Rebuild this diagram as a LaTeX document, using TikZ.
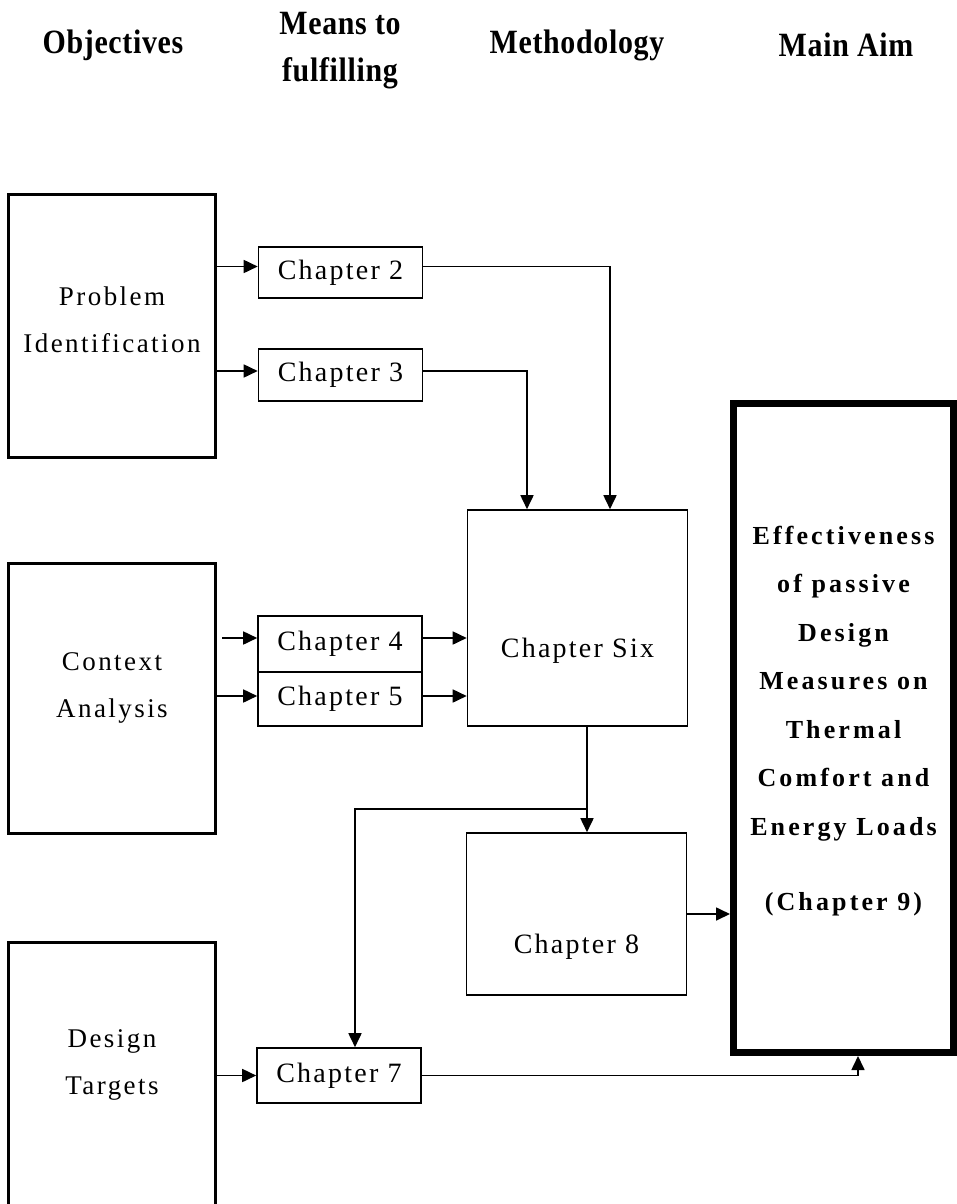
\documentclass[tikz,border=0pt]{standalone}
\usepackage{fontspec}
\setmainfont{Liberation Serif}
\newfontfamily\chapfont[LetterSpace=8]{Liberation Serif}
\newfontfamily\objfont[LetterSpace=9]{Liberation Serif}
\newfontfamily\headfont[FakeStretch=0.88, LetterSpace=2]{Liberation Serif}
\newfontfamily\aimfont[LetterSpace=12]{Liberation Serif}
\usetikzlibrary{arrows.meta,positioning,calc}

\begin{document}
\begin{tikzpicture}[
    x=1pt, y=-1pt,
    arr/.style={-{Triangle[length=14pt,width=13pt]}, line width=1.7pt},
    head/.style={font=\headfont\bfseries\fontsize{34}{47}\selectfont, align=center},
    objbox/.style 2 args={draw, line width=3pt, minimum width=207pt, label={[yshift=#1, align=center, font=\objfont\fontsize{27}{47}\selectfont]center:#2}},
    chapbox/.style={draw, line width=1.6pt, minimum width=164pt, minimum height=53pt, font=\chapfont\fontsize{28}{32}\selectfont},
    methbox/.style={draw, line width=1.6pt, minimum width=220pt, label={[yshift=-33pt, font=\chapfont\fontsize{28}{32}\selectfont]center:#1}},
    aimbox/.style={draw, line width=7pt, minimum width=220pt, minimum height=649pt, label={[yshift=7pt, align=center, font=\aimfont\bfseries\fontsize{26}{48.5}\selectfont]center:#1}}
]
\useasboundingbox (0,0) rectangle (957,1204);

% column headings
\node[head] (hobj) at (113,45) {Objectives};
\node[head] (hmeans) at (340,51) {Means to\\fulfilling};
\node[head] (hmeth) at (577,45) {Methodology};
\node[head] (haim) at (846,45) {Main Aim};

% objectives
\node[objbox={6pt}{Problem\\Identification}, minimum height=263pt] (prob) at (112,325.5) {};
\node[objbox={10pt}{Context\\Analysis}, minimum height=270pt] (ctx) at (112,698) {};
\node[objbox={27pt}{Design\\Targets}, minimum height=300pt] (dsgn) at (112,1092) {};

% means
\node[chapbox, minimum height=51pt] (ch2) at (340.5,272.5) {Chapter 2};
\node[chapbox, minimum height=52pt] (ch3) at (340.5,375) {Chapter 3};
\node[chapbox, minimum height=56pt] (ch4) at (340,644) {Chapter 4};
\node[chapbox, minimum height=54pt] (ch5) at (340,699) {Chapter 5};
\node[chapbox, minimum height=55pt] (ch7) at (339,1075.5) {Chapter 7};

% methodology
\node[methbox=Chapter Six, minimum height=216pt] (ch6) at (577.5,618) {};
\node[methbox=Chapter 8, minimum height=162pt] (ch8) at (576.5,914) {};

% main aim
\node[aimbox={Effectiveness\\of passive\\Design\\Measures on\\Thermal\\Comfort and\\Energy Loads\\[27pt](Chapter 9)}] (aim) at (843.5,728) {};

% connectors
\coordinate (split) at (587,809);
\draw[arr] (prob.east |- ch2.west) ++(0,-6) -- ([yshift=6pt]ch2.west);
\draw[arr] (prob.east |- ch3.west) ++(0,-4) -- ([yshift=4pt]ch3.west);
\draw[arr] ([yshift=6pt]ch2.east) -| ([xshift=32.5pt]ch6.north);
\draw[arr] ([yshift=4pt]ch3.east) -| ([xshift=-50.5pt]ch6.north);
\draw[arr] ([xshift=5pt]ctx.east |- ch4.west) ++(0,-6) -- ([yshift=6pt]ch4.west);
\draw[arr] (ctx.east |- ch5.west) ++(0,-3) -- ([yshift=3pt]ch5.west);
\draw[arr] ([yshift=6pt]ch4.east) -- ([yshift=6pt]ch4.east -| ch6.west);
\draw[arr] ([yshift=3pt]ch5.east) -- ([yshift=3pt]ch5.east -| ch6.west);
\draw[arr] ([xshift=9.5pt]ch6.south) -- ([xshift=10.5pt]ch8.north);
\draw[arr] (split) -| ([xshift=16pt]ch7.north);
\draw[arr] (ch8.east) -- (ch8.east -| aim.west);
\draw[arr] (dsgn.east |- ch7.west) -- (ch7.west);
\draw[arr] (ch7.east) -| ([xshift=14.5pt]aim.south);
\end{tikzpicture}
\end{document}
